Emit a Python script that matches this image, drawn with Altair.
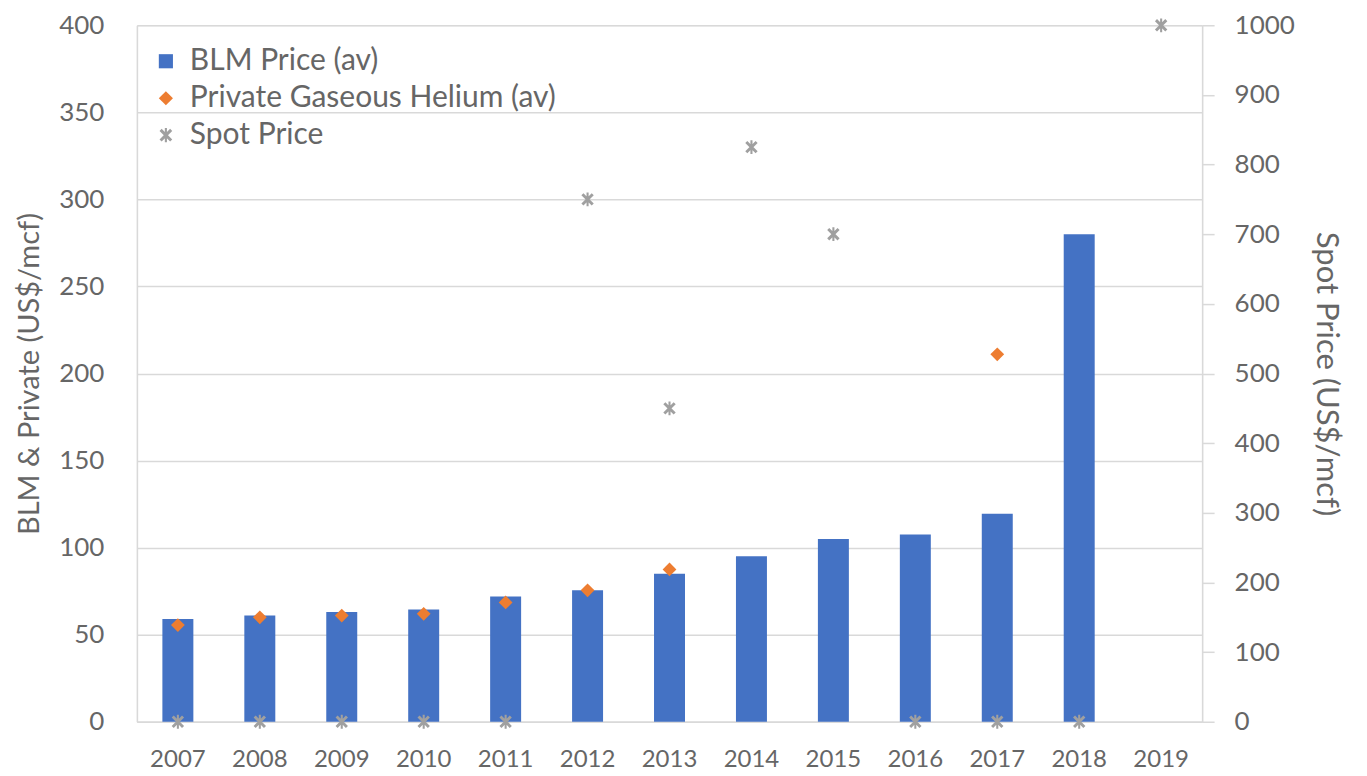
import altair as alt
import pandas as pd

years = ["2007", "2008", "2009", "2010", "2011", "2012", "2013",
         "2014", "2015", "2016", "2017", "2018", "2019"]
blm_price = [59, 61, 63, 64.5, 72, 75.5, 85, 95, 105, 107.5, 119.5, 280, None]
private_price = [55.5, 60, 61, 62, 68.5, 75.5, 87.5, None, None, None, 211, None, None]
spot_price = [0, 0, 0, 0, 0, 750, 450, 825, 700, 0, 0, 0, 1000]

series_names = ["BLM Price (av)", "Private Gaseous Helium (av)", "Spot Price"]
series_colors = ["#4472C4", "#ED7D31", "#A0A0A0"]

asterisk = ("M-0.15,-1L0.15,-1L0.15,1L-0.15,1Z"
            "M-0.6,-0.9L0.9,0.6L0.6,0.9L-0.9,-0.6Z"
            "M0.9,-0.6L-0.6,0.9L-0.9,0.6L0.6,-0.9Z")
series_shapes = ["square", "diamond", asterisk]

rows = []
for name, vals in zip(series_names, [blm_price, private_price, spot_price]):
    for y, v in zip(years, vals):
        if v is not None:
            rows.append({"year": y, "series": name, "value": v})
df = pd.DataFrame(rows)

GRAY = "#666666"
LINE = "#D9D9D9"
FONT = "Lato"

x_enc = alt.X("year:N", sort=years,
              scale=alt.Scale(paddingInner=0, paddingOuter=0),
              axis=alt.Axis(title=None, labelAngle=0, labelFontSize=24, labelColor=GRAY,
                            labelFont=FONT, ticks=False, labelPadding=26,
                            domainColor=LINE, domainWidth=1.5, grid=False))

legend_kw = dict(title=None, orient="none", legendX=14, legendY=21,
                 labelFontSize=30, labelColor=GRAY, labelFont=FONT, labelLimit=0,
                 symbolSize=200, rowPadding=7, labelOffset=9, symbolStrokeWidth=0)
color_enc = alt.Color("series:N", scale=alt.Scale(domain=series_names, range=series_colors),
                      legend=alt.Legend(**legend_kw))
shape_enc = alt.Shape("series:N", scale=alt.Scale(domain=series_names, range=series_shapes),
                      legend=alt.Legend(**legend_kw))

left_scale = alt.Scale(domain=[0, 400], nice=False)
left_axis = alt.Axis(title="BLM & Private (US$/mcf)", titleFontSize=29, titleColor=GRAY,
                     titleFont=FONT, titleFontWeight="normal", titlePadding=14,
                     values=list(range(0, 401, 50)), labelFontSize=26, labelColor=GRAY,
                     labelFont=FONT, ticks=False, labelPadding=33,
                     domainColor=LINE, domainWidth=1.5,
                     gridColor=LINE, gridWidth=1.5)

bars = alt.Chart(df).transform_filter(alt.datum.series == series_names[0]).mark_bar(size=31).encode(
    x=x_enc,
    y=alt.Y("value:Q", scale=left_scale, axis=left_axis),
    color=color_enc,
)
private = alt.Chart(df).transform_filter(alt.datum.series == series_names[1]).mark_point(
    filled=True, size=190, opacity=1).encode(
    x=x_enc,
    y=alt.Y("value:Q", scale=left_scale, axis=left_axis),
    color=color_enc,
    shape=shape_enc,
)
spot = alt.Chart(df).transform_filter(alt.datum.series == series_names[2]).mark_point(
    filled=True, size=190, opacity=1).encode(
    x=x_enc,
    y=alt.Y("value:Q", scale=alt.Scale(domain=[0, 1000], nice=False),
            axis=alt.Axis(orient="right", title="Spot Price (US$/mcf)", titleFontSize=31,
                          titleColor=GRAY, titleFont=FONT, titleFontWeight="normal",
                          titlePadding=15, values=list(range(0, 1001, 100)), format="d",
                          labelFontSize=26, labelColor=GRAY, labelFont=FONT,
                          tickSize=12, tickColor=LINE, tickWidth=1.5, labelPadding=20,
                          domainColor=LINE, domainWidth=1.5, grid=False)),
    color=color_enc,
    shape=shape_enc,
)

left = alt.layer(bars, private)
chart = alt.layer(left, spot).resolve_scale(y="independent").properties(
    width=1066, height=697,
    autosize=alt.AutoSizeParams(type="none"),
    padding={"left": 129, "top": 17, "right": 157, "bottom": 49},
).configure_view(stroke=None).configure(background="white")

chart.save("out.html", embed_options={"renderer": "svg", "actions": False})
